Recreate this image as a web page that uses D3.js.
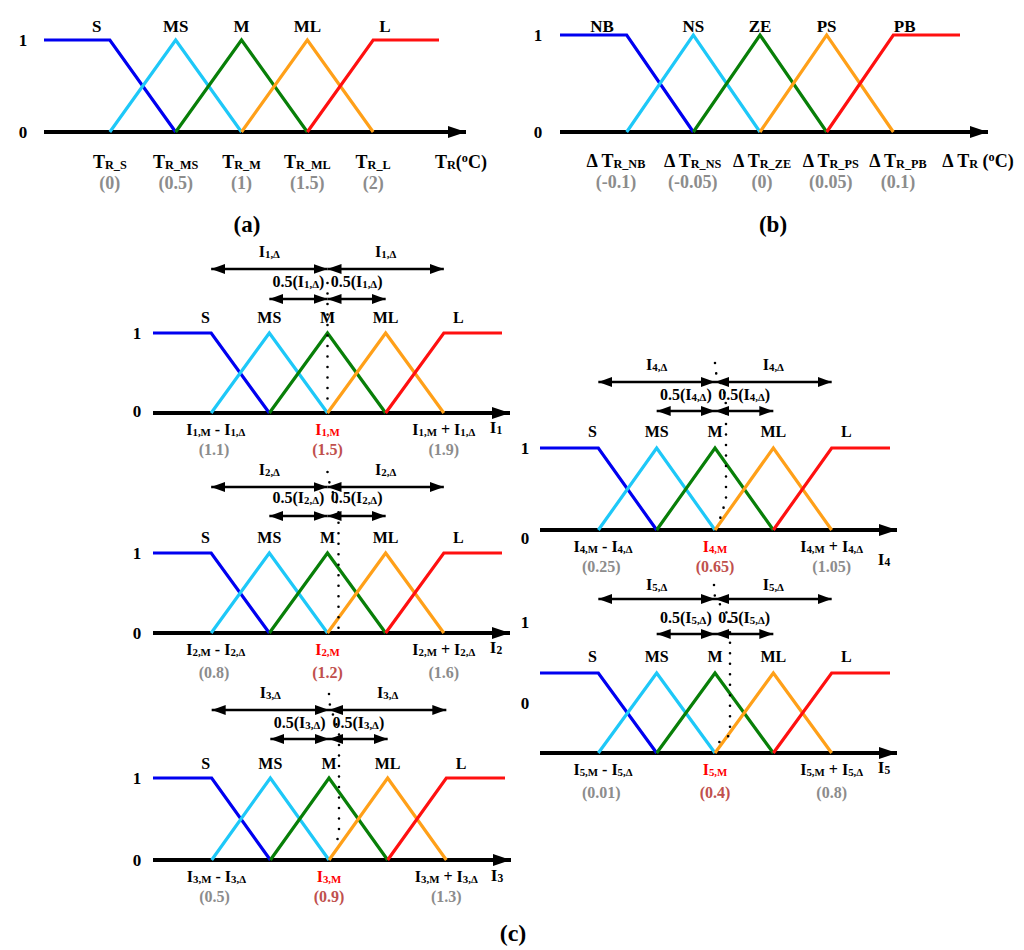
<!DOCTYPE html>
<html><head><meta charset="utf-8">
<script src="https://cdn.jsdelivr.net/npm/d3@7"></script>
<style>
body{margin:0;background:#fff}
svg{display:block}
text{font-family:"Liberation Serif","Times New Roman",serif;font-weight:bold}
</style>
</head><body>
<svg id="chart" width="1024" height="950"></svg>
<script>
// ---------------- DATA ----------------
const mfNamesT  = ["S","MS","M","ML","L"];          // fuzzy sets for T_R and currents
const mfNamesDT = ["NB","NS","ZE","PS","PB"];       // fuzzy sets for ΔT_R
const mfColors  = ["#0000f0","#1ec8f8","#087f08","#ffa019","#ff1010"];
// membership-function vertices: [breakpoint index (0..6), membership degree]
const mfS  = [[0,1],[1,1],[2,0]];
const mfMS = [[1,0],[2,1],[3,0]];
const mfM  = [[2,0],[3,1],[4,0]];
const mfML = [[3,0],[4,1],[5,0]];
const mfL  = [[4,0],[5,1],[6,1]];
const mfVertices = [mfS, mfMS, mfM, mfML, mfL];
const yTicks = ["0","1"];
// panel (a): T_R tick labels
const subA    = ["R_S","R_MS","R_M","R_ML","R_L"];
const valuesA = ["0","0.5","1","1.5","2"];
// panel (b): ΔT_R tick labels
const subB    = ["R_NB","R_NS","R_ZE","R_PS","R_PB"];
const valuesB = ["-0.1","-0.05","0","0.05","0.1"];
// panel (c): currents I1..I5, low / centre / high values
const currentIdx  = ["1","2","3","4","5"];
const currentLow  = ["1.1","0.8","0.5","0.25","0.01"];
const currentMid  = ["1.5","1.2","0.9","0.65","0.4"];
const currentHigh = ["1.9","1.6","1.3","1.05","0.8"];

// ---------------- LAYOUT ----------------
const svg = d3.select("#chart");
const defs = svg.append("defs");
defs.append("marker").attr("id","arr").attr("viewBox","0 0 14 10")
  .attr("refX",14).attr("refY",5).attr("markerWidth",14).attr("markerHeight",10)
  .attr("markerUnits","userSpaceOnUse").attr("orient","auto-start-reverse")
  .append("path").attr("d","M0,0 L14,5 L0,10 Z").attr("fill","#000");
defs.append("marker").attr("id","axarr").attr("viewBox","0 0 18 12")
  .attr("refX",18).attr("refY",6).attr("markerWidth",18).attr("markerHeight",12)
  .attr("markerUnits","userSpaceOnUse").attr("orient","auto")
  .append("path").attr("d","M0,0 L18,6 L0,12 Z").attr("fill","#000");

function rich(g, x, y, parts, size, color, anchor){
  const t = g.append("text").attr("x",x).attr("y",y).attr("font-size",size)
    .attr("fill",color||"#000").attr("text-anchor",anchor||"middle");
  let shift = 0;
  parts.forEach(p=>{
    const s = p[0], k = p[1];
    const target = k==="sub" ? size*0.08 : k==="sup" ? -size*0.36 : 0;
    const ts = t.append("tspan").text(s).attr("dy", target-shift);
    if(k) ts.attr("font-size", size*0.68);
    shift = target;
  });
  return t;
}

function basePanel(c){
  const g = svg.append("g");
  const x = d3.scaleLinear().domain([0,6]).range([c.x0,c.x1]);
  const y = d3.scaleLinear().domain([0,1]).range([c.axisY,c.topY]);
  // axis
  g.append("line").attr("x1",c.x0).attr("x2",c.tip).attr("y1",y(0)).attr("y2",y(0))
    .attr("stroke","#000").attr("stroke-width",4).attr("marker-end","url(#axarr)");
  // y tick labels
  yTicks.forEach((t,i)=>{
    g.append("text").attr("x",c.ylabX).attr("y",c.ylabY[i]+6).attr("font-size",17)
      .attr("text-anchor","middle").text(t);
  });
  // membership functions
  const line = d3.line().x(d=>x(d[0])).y(d=>y(d[1]));
  mfVertices.forEach((v,i)=>{
    g.append("path").attr("d",line(v)).attr("fill","none")
      .attr("stroke",mfColors[i]).attr("stroke-width",3.2);
  });
  // names
  c.names.forEach((n,i)=>{
    g.append("text").attr("x",x(c.nameIdx[i])).attr("y",c.axisY+c.nameDy)
      .attr("font-size",c.nameSize||17).attr("text-anchor","middle").text(n);
  });
  return {g,x,y};
}

// ---------- panel (a) ----------
(function(){
  const c = {x0:44,x1:439,axisY:132,topY:40,tip:466,ylabX:23,ylabY:[132,40],
    names:mfNamesT,nameIdx:[0.8,2,3,4,5.18],nameDy:-100};
  const {g,x} = basePanel(c);
  subA.forEach((s,i)=>{
    rich(g, x(i+1), 168, [["T"],[s,"sub"]], 18);
    g.append("text").attr("x",x(i+1)).attr("y",189).attr("font-size",18)
      .attr("fill","#8c8c8c").attr("text-anchor","middle").text("("+valuesA[i]+")");
  });
  rich(g, 461, 168, [["T"],["R","sub"],["("],["o","sup"],["C)"]], 18);
  g.append("text").attr("x",247).attr("y",232).attr("font-size",23)
    .attr("text-anchor","middle").text("(a)");
})();

// ---------- panel (b) ----------
(function(){
  const c = {x0:560,x1:960,axisY:132,topY:35,tip:988,ylabX:538,ylabY:[132,35],
    names:mfNamesDT,nameIdx:[0.63,2,3,4,5.17],nameDy:-100};
  const {g,x} = basePanel(c);
  const lblIdx = [0.84,1.99,3.03,4.06,5.07];
  subB.forEach((s,i)=>{
    rich(g, x(lblIdx[i]), 167, [["Δ T"],[s,"sub"]], 18);
    g.append("text").attr("x",x(lblIdx[i])).attr("y",188).attr("font-size",18)
      .attr("fill","#8c8c8c").attr("text-anchor","middle").text("("+valuesB[i]+")");
  });
  rich(g, 978, 167, [["Δ T"],["R","sub"],[" ("],["o","sup"],["C)"]], 18);
  g.append("text").attr("x",773).attr("y",232).attr("font-size",23)
    .attr("text-anchor","middle").text("(b)");
})();

// ---------- panel (c) ----------
const cLayout = [
  {x0:153,x1:502,axisY:413,topY:333,tip:510,ylabX:137,ylabY:[411,333],ann:[-156,-144,-126,-114],nameDy:-90,varX:496,varDy:20,
   dots:[[0,-130],[0,-8]]},
  {x0:153,x1:502,axisY:633,topY:553,tip:510,ylabX:137,ylabY:[633,553],ann:[-158,-146,-130,-117],nameDy:-90,varX:496,varDy:20,
   dots:[[0,-161],[2,-150],[11,-125],[11,-3]]},
  {x0:153,x1:505,axisY:860,topY:778,tip:511,ylabX:137,ylabY:[860,778],ann:[-162,-150,-132,-121],nameDy:-91,varX:497,varDy:21,
   dots:[[0,-166],[1,-154],[10,-128],[10,-23],[4,-15]]},
  {x0:540,x1:890,axisY:530,topY:448,tip:897,ylabX:525,ylabY:[538,448],ann:[-160,-148,-130,-119],nameDy:-93,varX:884,varDy:35,
   dots:[[0,-167],[1,-157],[9,-140],[11,-125],[11,-30],[3,-5]]},
  {x0:540,x1:890,axisY:753,topY:673,tip:897,ylabX:525,ylabY:[703,622],ann:[-163,-154,-130,-119],nameDy:-91,varX:884,varDy:20,
   dots:[[-1,-168],[0,-155],[15,-136],[15,-18],[0,-8]]}
];

cLayout.forEach((L,k)=>{
  const c = Object.assign({names:mfNamesT,nameIdx:[0.9,2,3,4,5.25],nameSize:16}, L);
  const {g,x} = basePanel(c);
  const n = currentIdx[k];
  const A = c.axisY;
  // Δ labels and long arrows
  [[1,3],[3,5]].forEach(([a,b])=>{
    rich(g, x((a+b)/2), A+c.ann[0], [["I"],[n+",Δ","sub"]], 16);
    g.append("line").attr("x1",x(a)).attr("x2",x(b)).attr("y1",A+c.ann[1]).attr("y2",A+c.ann[1])
      .attr("stroke","#000").attr("stroke-width",2.5)
      .attr("marker-start","url(#arr)").attr("marker-end","url(#arr)");
  });
  // half-Δ labels and short arrows
  [[2,3],[3,4]].forEach(([a,b])=>{
    rich(g, x((a+b)/2), A+c.ann[2], [["0.5(I"],[n+",Δ","sub"],[")"]], 16);
    g.append("line").attr("x1",x(a)).attr("x2",x(b)).attr("y1",A+c.ann[3]).attr("y2",A+c.ann[3])
      .attr("stroke","#000").attr("stroke-width",2.5)
      .attr("marker-start","url(#arr)").attr("marker-end","url(#arr)");
  });
  // dotted centre line
  const mx = x(3);
  g.append("path").attr("d", d3.line()(c.dots.map(d=>[mx+d[0], A+d[1]])))
    .attr("fill","none").attr("stroke","#000").attr("stroke-width",2.6)
    .attr("stroke-dasharray","0,10.5").attr("stroke-linecap","round");
  // bottom labels
  rich(g, x(1.08), A+22, [["I"],[n+",M","sub"],[" - I"],[n+",Δ","sub"]], 16);
  rich(g, x(3), A+22, [["I"],[n+",M","sub"]], 16, "#ff0000");
  rich(g, x(5), A+22, [["I"],[n+",M","sub"],[" + I"],[n+",Δ","sub"]], 16);
  rich(g, c.varX, A+c.varDy, [["I"],[n,"sub"]], 17);
  const vy = A + (k===1||k===4 ? 45 : 42);
  g.append("text").attr("x",x(1.05)).attr("y",vy).attr("font-size",16).attr("fill","#8c8c8c")
    .attr("text-anchor","middle").text("("+currentLow[k]+")");
  g.append("text").attr("x",x(3)).attr("y",vy).attr("font-size",16).attr("fill","#c0504d")
    .attr("text-anchor","middle").text("("+currentMid[k]+")");
  g.append("text").attr("x",x(5)).attr("y",vy).attr("font-size",16).attr("fill","#8c8c8c")
    .attr("text-anchor","middle").text("("+currentHigh[k]+")");
});
svg.append("text").attr("x",513).attr("y",941).attr("font-size",24)
  .attr("text-anchor","middle").text("(c)");
</script>
</body></html>
